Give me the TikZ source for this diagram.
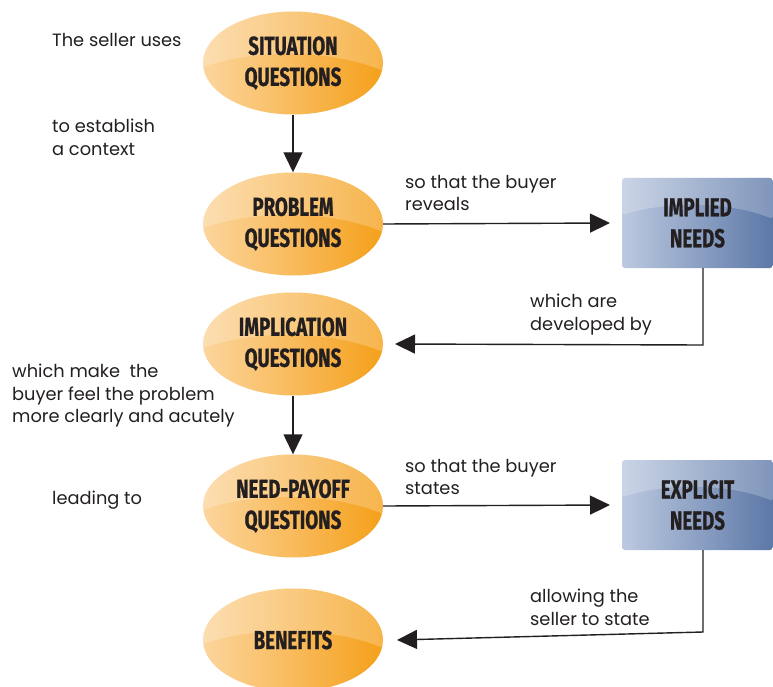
\documentclass[tikz,border=0pt]{standalone}
\usepackage{fontspec}
\setmainfont{Poppins}
\newfontfamily\headfont[FakeStretch=0.72,FakeBold=0.8]{Fira Sans Bold}
\usetikzlibrary{shapes.geometric,arrows.meta,calc}
\definecolor{orL}{HTML}{FCD59D}
\definecolor{orR}{HTML}{F5A01A}
\definecolor{blL}{HTML}{BCC9E0}
\definecolor{blR}{HTML}{5C78A7}
\definecolor{txt}{HTML}{231F20}
\tikzset{
  bubble/.style={ellipse, minimum width=180pt, minimum height=103pt, inner sep=0pt,
    left color=orL, right color=orR, draw=none, align=center,
    font=\headfont\fontsize{26pt}{31pt}\selectfont, text=txt,
    path picture={\fill[white,opacity=0.22]
      ($(path picture bounding box.west)+(0,4)$) .. controls ($(path picture bounding box.center)+(-40,-14)$) and ($(path picture bounding box.center)+(40,-14)$) .. ($(path picture bounding box.east)+(0,8)$)
      -- (path picture bounding box.north east) -- (path picture bounding box.north west) -- cycle;}},
  needbox/.style={rectangle, rounded corners=3pt, minimum width=151pt, minimum height=90pt, inner sep=0pt,
    left color=blL, right color=blR, draw=none, align=center,
    font=\headfont\fontsize{26pt}{31pt}\selectfont, text=txt,
    path picture={\fill[white,opacity=0.22]
      ($(path picture bounding box.west)+(0,-8)$) .. controls ($(path picture bounding box.center)+(-30,-22)$) and ($(path picture bounding box.center)+(30,-22)$) .. ($(path picture bounding box.east)+(0,-4)$)
      -- (path picture bounding box.north east) -- (path picture bounding box.north west) -- cycle;}},
  lbl/.style={anchor=north west, align=left, inner sep=0pt, text=txt,
    font=\fontsize{17.8pt}{22.3pt}\selectfont},
  conn/.style={line width=1.4pt, draw=txt, -{Triangle[length=20pt,width=19pt]}},
}
\begin{document}
\begin{tikzpicture}[x=1pt,y=-1pt]
\useasboundingbox (0,0) rectangle (773,687);
\node[bubble] (sit) at (293,63) {SITUATION\\QUESTIONS};
\node[bubble] (prob) at (293,224) {PROBLEM\\QUESTIONS};
\node[bubble] (impl) at (293,344) {IMPLICATION\\QUESTIONS};
\node[bubble] (need) at (293,506) {NEED-PAYOFF\\QUESTIONS};
\node[bubble] (ben) at (293,640) {BENEFITS};
\node[needbox] (implied) at (697.5,223) {IMPLIED\\NEEDS};
\node[needbox] (explicit) at (697.5,505) {EXPLICIT\\NEEDS};

\coordinate (c1) at (703,345);
\coordinate (c2) at (703,632);

\draw[conn] (sit) -- (prob);
\draw[conn] (impl) -- (need);
\draw[conn] (prob.east) -- (implied.west -| 610,0);
\draw[conn] (need.east) -- (explicit.west -| 610,0);
\draw[conn] (implied.south -| c1) -- (c1) -- (impl.east -| 395,0);
\draw[conn] (explicit.south -| c2) -- (c2) -- (ben.east -| 397,0);

\node[lbl] (t1) at (52,33) {The seller uses};
\node[lbl] (t2) at (52,119) {to establish\\a context};
\node[lbl] (t3) at (405,175) {so that the buyer\\reveals};
\node[lbl] (t4) at (530,294) {which are\\developed by};
\node[lbl] (t5) at (12,364) {which make\ \ the\\buyer feel the problem\\more clearly and acutely};
\node[lbl] (t6) at (405,459) {so that the buyer\\states};
\node[lbl] (t7) at (52,491) {leading to};
\node[lbl] (t8) at (530,589) {allowing the\\seller to state};
\end{tikzpicture}
\end{document}
